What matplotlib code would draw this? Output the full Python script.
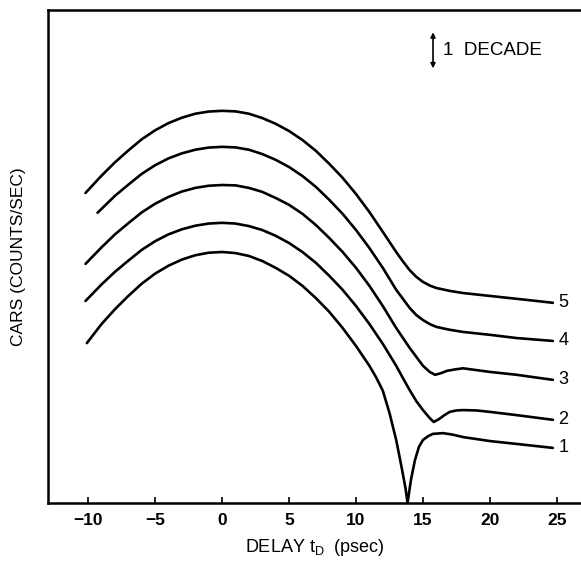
import matplotlib.pyplot as plt

plt.rcParams["font.family"] = ["Liberation Sans", "DejaVu Sans"]

# delay (psec) and log10 CARS signal (decades, arbitrary offset) for each trace
t5 = [-10.2, -9, -8, -7, -6, -5, -4, -3, -2, -1, 0, 1, 2, 3, 4, 5, 6, 7, 8, 9, 10,
      11, 12, 13, 13.5, 14, 14.5, 15, 15.5, 16, 17, 18, 20, 22, 24.7]
s5 = [8.61, 9.09, 9.46, 9.79, 10.10, 10.35, 10.55, 10.70, 10.81, 10.87, 10.89,
      10.875, 10.81, 10.69, 10.53, 10.33, 10.08, 9.78, 9.42, 9.03, 8.58, 8.08,
      7.53, 6.97, 6.71, 6.47, 6.28, 6.14, 6.04, 5.97, 5.89, 5.83, 5.75, 5.67, 5.56]

t4 = [-9.3, -8, -7, -6, -5, -4, -3, -2, -1, 0, 1, 2, 3, 4, 5, 6, 7, 8, 9, 10,
      11, 12, 13, 13.5, 14, 14.5, 15, 15.5, 16, 17, 18, 20, 22, 24.7]
s4 = [8.06, 8.53, 8.84, 9.14, 9.38, 9.57, 9.71, 9.81, 9.87, 9.89, 9.875, 9.81,
      9.69, 9.53, 9.33, 9.08, 8.78, 8.42, 8.03, 7.58, 7.08, 6.53, 5.92, 5.67,
      5.42, 5.22, 5.08, 4.97, 4.89, 4.81, 4.75, 4.67, 4.58, 4.50]

t3 = [-10.2, -9, -8, -7, -6, -5, -4, -3, -2, -1, 0, 1, 2, 3, 4, 5, 6, 7, 8, 9, 10,
      11, 12, 13, 14, 14.5, 15, 15.5, 15.9, 16.3, 16.8, 17.4, 18, 19, 20, 22, 24.7]
s3 = [6.64, 7.10, 7.46, 7.77, 8.07, 8.31, 8.50, 8.65, 8.75, 8.81, 8.83, 8.82,
      8.75, 8.64, 8.47, 8.28, 8.03, 7.72, 7.36, 6.97, 6.53, 6.03, 5.47, 4.86,
      4.31, 4.06, 3.81, 3.64, 3.56, 3.60, 3.67, 3.71, 3.74, 3.69, 3.64, 3.56, 3.42]

t2 = [-10.2, -9, -8, -7, -6, -5, -4, -3, -2, -1, 0, 1, 2, 3, 4, 5, 6, 7, 8, 9, 10,
      11, 12, 13, 13.5, 14, 14.5, 15, 15.5, 15.8, 16.2, 16.6, 17, 17.5, 18, 19,
      20, 22, 24.7]
s2 = [5.61, 6.07, 6.42, 6.73, 7.03, 7.27, 7.46, 7.60, 7.70, 7.76, 7.78, 7.76,
      7.69, 7.58, 7.42, 7.22, 6.97, 6.67, 6.31, 5.92, 5.47, 4.97, 4.42, 3.81,
      3.47, 3.14, 2.83, 2.58, 2.36, 2.25, 2.33, 2.44, 2.53, 2.57, 2.58, 2.57,
      2.53, 2.44, 2.31]

t1 = [-10.1, -9, -8, -7, -6, -5, -4, -3, -2, -1, 0, 1, 2, 3, 4, 5, 6, 7, 8, 9, 10,
      11, 11.5, 12, 12.5, 13, 13.4, 13.7, 13.85, 14.1, 14.4, 14.7, 15, 15.4,
      15.75, 16.5, 17.2, 18, 20, 22, 24.7]
s1 = [4.44, 4.97, 5.38, 5.75, 6.09, 6.37, 6.59, 6.76, 6.88, 6.95, 6.97, 6.94,
      6.86, 6.72, 6.53, 6.31, 6.03, 5.69, 5.31, 4.86, 4.36, 3.81, 3.49, 3.12,
      2.50, 1.75, 1.00, 0.40, 0.0, 0.64, 1.19, 1.56, 1.75, 1.86, 1.92, 1.94,
      1.90, 1.83, 1.72, 1.64, 1.53]

traces = [("1", t1, s1), ("2", t2, s2), ("3", t3, s3), ("4", t4, s4), ("5", t5, s5)]
xticks = [-10, -5, 0, 5, 10, 15, 20, 25]
xticklabels = ["\u221210", "\u22125", "0", "5", "10", "15", "20", "25"]

fig = plt.figure(figsize=(5.81, 5.63), dpi=100)
ax = fig.add_axes([48 / 581, 60 / 563, 533 / 581, 493 / 563])

for name, t, s in traces:
    ax.plot(t, s, color="black", lw=1.9, solid_capstyle="round",
            solid_joinstyle="round")
    ax.text(t[-1] + 0.4, s[-1], name, fontsize=13, ha="left", va="center")

# one-decade scale bar
ax.annotate("", xy=(15.75, 13.07), xytext=(15.75, 12.07),
            arrowprops=dict(arrowstyle="<|-|>", color="black", lw=1.2,
                            mutation_scale=7, shrinkA=0, shrinkB=0))
ax.text(16.5, 12.57, "1  DECADE", fontsize=13.5, ha="left", va="center")

ax.set_xlim(-13.0, 26.8)
ax.set_ylim(0, 13.69)
ax.set_xticks(xticks)
ax.set_xticklabels(xticklabels, fontweight="bold", fontsize=12.5)
ax.set_yticks([])
ax.tick_params(axis="x", direction="in", length=4, width=1.2, pad=7)

for side in ["left", "top", "bottom"]:
    ax.spines[side].set_linewidth(1.8)
ax.spines["right"].set_visible(False)

ax.set_xlabel("DELAY t$_\\mathregular{D}$  (psec)", fontsize=13, labelpad=7)
ax.set_ylabel("CARS (COUNTS/SEC)", fontsize=12.5, labelpad=16)

fig.savefig("out.png", dpi=100)
